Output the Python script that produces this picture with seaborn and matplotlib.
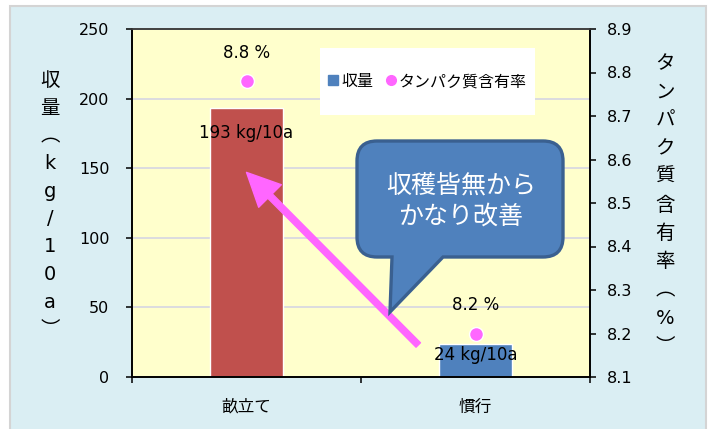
import numpy as np
import seaborn as sns
import matplotlib.pyplot as plt
from matplotlib.patches import Rectangle, PathPatch
from matplotlib.path import Path
from matplotlib.lines import Line2D
from matplotlib.transforms import Affine2D

categories = ["畝立て", "慣行"]
yields = [193, 24]
protein = [8.78, 8.2]
yield_labels = ["193 kg/10a", "24 kg/10a"]
protein_labels = ["8.8 %", "8.2 %"]
yield_ticks = [0, 50, 100, 150, 200, 250]
protein_ticks = [8.1, 8.2, 8.3, 8.4, 8.5, 8.6, 8.7, 8.8, 8.9]
bar_colors = ["#C0504D", "#4F81BD"]
pink = "#FF66FF"

sns.set_style("ticks")
plt.rcParams["font.family"] = ["DejaVu Sans", "Noto Sans CJK JP"]
plt.rcParams["text.color"] = "black"
plt.rcParams["xtick.color"] = "black"
plt.rcParams["ytick.color"] = "black"

W, H = 709, 429
fig = plt.figure(figsize=(W / 100, H / 100), dpi=100, facecolor="white")
px = Affine2D().scale(1 / W, -1 / H).translate(0, 1) + fig.transFigure

# light blue panel behind everything
fig.patches.append(Rectangle((10, 6), 696, 440, transform=px, facecolor="#DAEEF3",
                             edgecolor="#D4D4D4", lw=1.5, zorder=-5))

ax = fig.add_axes([132 / W, 1 - 377 / H, 458 / W, 348 / H])
ax.set_facecolor("#FFFFCC")
ax2 = ax.twinx()

sns.barplot(x=categories, y=yields, hue=categories, palette=bar_colors, width=0.315,
            saturation=1, legend=False, ax=ax, zorder=2)
sns.pointplot(x=categories, y=protein, ax=ax2, linestyle="none", color=pink,
              markers="o", markersize=10, markeredgecolor="white", markeredgewidth=1,
              errorbar=None)

ax.set_ylim(0, 250)
ax.set_yticks(yield_ticks)
ax2.set_ylim(8.1, 8.9)
ax2.set_yticks(protein_ticks)
ax2.set_yticklabels([f"{t:.1f}" for t in protein_ticks])
ax.set_xlim(-0.5, 1.5)
ax.set_xticks([-0.5, 0.5, 1.5])
ax.set_xticklabels([])
ax.set_xticks([0, 1], minor=True)
ax.set_xticklabels(categories, minor=True, fontsize=12)
ax.set_xlabel("")
ax.set_ylabel("")
ax2.set_ylabel("")

ax.set_axisbelow(True)
ax.yaxis.grid(True, color="#D9D9E0", lw=1.3)
ax.xaxis.grid(False)
ax2.grid(False)

ax.tick_params(axis="y", length=4.3, width=1.1, pad=12, labelsize=11.5)
ax.tick_params(axis="x", which="major", length=4, width=1.1)
ax.tick_params(axis="x", which="minor", length=0, pad=15)
ax2.tick_params(axis="y", length=4.3, width=1.1, pad=8, labelsize=11.5)
for a in (ax, ax2):
    for s in a.spines.values():
        s.set_visible(True)
        s.set_linewidth(1.2)
        s.set_color("black")
    a.spines["top"].set_color("#404040")

# data labels
for i, (v, lab) in enumerate(zip(yields, yield_labels)):
    off = -18 if v > 100 else -8
    ax.annotate(lab, (i, v), xytext=(0, off), textcoords="offset points",
                ha="center", va="center", fontsize=12, zorder=4)
for i, (v, lab) in enumerate(zip(protein, protein_labels)):
    ax2.annotate(lab, (i, v), xytext=(0, 20.5), textcoords="offset points",
                 ha="center", va="center", fontsize=12)

# legend on a white box
ax.add_patch(Rectangle((0.4105, 0.753), 0.469, 0.1925, transform=ax.transAxes,
                       facecolor="white", edgecolor="none", zorder=1.5))
handles = [Line2D([], [], marker="s", ls="none", color=bar_colors[1], markersize=7.5),
           Line2D([], [], marker="o", ls="none", color=pink, markersize=7)]
ax2.legend(handles, ["収量", "タンパク質含有率"], ncol=2, loc="center",
           bbox_to_anchor=(0.645, 0.849), frameon=False, fontsize=11.5,
           handlelength=0.6, handletextpad=0.2, columnspacing=0.8)

# axis titles, stacked vertically
ax.text(-0.179, 0.494, "\n".join("収量︵kg/10a︶"), transform=ax.transAxes,
        ha="center", va="center", fontsize=14, linespacing=1.58)
ax2.text(1.164, 0.494, "\n".join("タンパク質含有率︵%︶"), transform=ax2.transAxes,
         ha="center", va="center", fontsize=14, linespacing=1.62)

# pink arrow
ax.annotate("", xy=(0, 147), xytext=(0.75, 23),
            arrowprops=dict(arrowstyle="simple,head_length=2.4,head_width=2.3,tail_width=0.45",
                            mutation_scale=10, color=pink, shrinkA=0, shrinkB=0), zorder=3)

# callout
x0, x1, y0, y1, r = 357, 563, 141, 257, 20
xl, xr, tip = 392, 443, (390, 312)
verts = [(x0 + r, y0), (x1 - r, y0), (x1, y0), (x1, y0 + r), (x1, y1 - r), (x1, y1),
         (x1 - r, y1), (xr, y1), tip, (xl, y1), (x0 + r, y1), (x0, y1), (x0, y1 - r),
         (x0, y0 + r), (x0, y0), (x0 + r, y0), (x0 + r, y0)]
codes = [Path.MOVETO, Path.LINETO, Path.CURVE3, Path.CURVE3, Path.LINETO, Path.CURVE3,
         Path.CURVE3, Path.LINETO, Path.LINETO, Path.LINETO, Path.LINETO, Path.CURVE3,
         Path.CURVE3, Path.LINETO, Path.CURVE3, Path.CURVE3, Path.CLOSEPOLY]
fig.patches.append(PathPatch(Path(verts, codes), transform=px, facecolor="#4F81BD",
                             edgecolor="#3A6090", lw=2.4, zorder=5))
fig.text(461 / W, 1 - 201 / H, "収穫皆無から\nかなり改善", ha="center", va="center",
         color="white", fontsize=18, linespacing=1.25, zorder=6,
         family=["Noto Sans CJK JP", "DejaVu Sans"])

fig.savefig("out.png", dpi=100, facecolor="white")
